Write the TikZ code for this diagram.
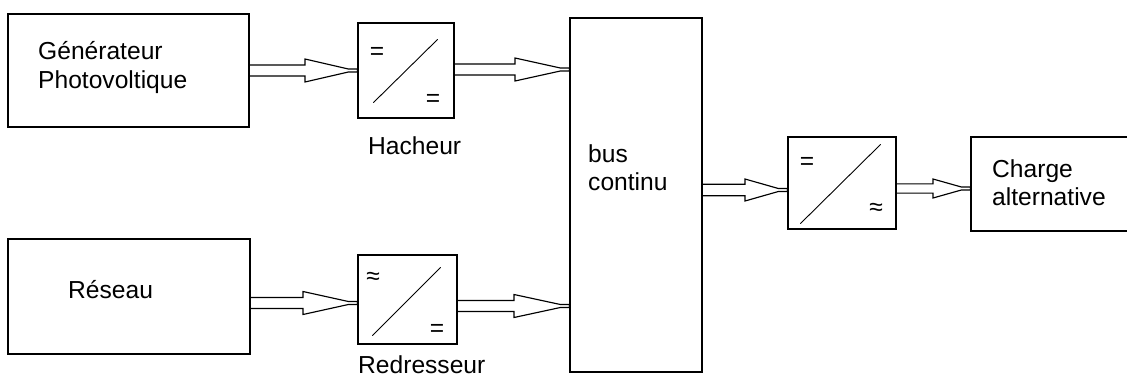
\documentclass[tikz,border=0pt]{standalone}
\usepackage{fontspec}
\setmainfont{Liberation Sans}
\usetikzlibrary{calc}
\tikzset{
  blk/.style={draw=black, line width=1.3pt, inner sep=0pt, fill=none},
  lbl/.style={anchor=base west, inner sep=0pt, font=\fontsize{24.6}{28.5}\selectfont},
  sym/.style={anchor=center, inner sep=0pt, font=\fontsize{24.6}{28.5}\selectfont},
  harrow/.style={draw=black, line width=1.15pt, line join=miter},
  diag/.style={draw=black, line width=0.9pt}
}
% #1 from node, #2 to node, #3 y centre, #4 x where the head starts, #5 shaft half width, #6 head half width
\newcommand{\hollowarrow}[6]{%
  \draw[harrow] (#1.east |- 0,{#3-#5}) -- (#4,{#3-#5}) -- (#4,{#3-#6})
    -- ($(#2.west |- 0,{#3-1.5})+(-9,0)$) -- (#2.west |- 0,{#3-1.5})
    -- (#2.west |- 0,{#3+1.5}) -- ($(#2.west |- 0,{#3+1.5})+(-9,0)$)
    -- (#4,{#3+#6}) -- (#4,{#3+#5}) -- (#1.east |- 0,{#3+#5});}
\begin{document}
\begin{tikzpicture}[x=1pt,y=-1pt]
\useasboundingbox (0,0) rectangle (1127,378);
\fill[white] (0,0) rectangle (1127,378);

% blocks
\node[blk, minimum width=241pt, minimum height=113pt] (gen) at (128.5,70.5) {};
\node[blk, minimum width=96pt, minimum height=95pt] (hach) at (406,70.5) {};
\node[blk, minimum width=132pt, minimum height=354pt] (bus) at (636,195) {};
\node[blk, minimum width=242pt, minimum height=115pt] (res) at (129,296.5) {};
\node[blk, minimum width=99pt, minimum height=89pt] (redr) at (407.5,299.5) {};
\node[blk, minimum width=108pt, minimum height=92pt] (ond) at (842,183) {};
\node[blk, minimum width=169pt, minimum height=94pt] (charge) at (1055.5,184) {};

% texts
\node[lbl] (gent1) at (38,59) {Générateur};
\node[lbl] (gent2) at (38,88) {Photovoltique};
\node[lbl] (hacht) at (368,154) {Hacheur};
\node[lbl] (bust1) at (588,162) {bus};
\node[lbl] (bust2) at (588,190) {continu};
\node[lbl] (rest) at (68,298) {Réseau};
\node[lbl] (redrt) at (358,373) {Redresseur};
\node[lbl] (charget1) at (992,177) {Charge};
\node[lbl] (charget2) at (992,205) {alternative};

% converter symbols
\draw[diag] ($(hach.south west)+(16,-16)$) -- ($(hach.north east)+(-17,17)$);
\node[sym] (h1) at (377,53) {=};
\node[sym] (h2) at (433,100) {=};

\draw[diag] ($(redr.south west)+(15,-9)$) -- ($(redr.north east)+(-17,13)$);
\node[sym] (r1) at (373,278) {≈};
\node[sym] (r2) at (437,330) {=};

\draw[diag] ($(ond.south west)+(13,-6)$) -- ($(ond.north east)+(-16,8)$);
\node[sym] (o1) at (807,163) {=};
\node[sym] (o2) at (876,209) {≈};

% hollow arrows
\hollowarrow{gen}{hach}{70.5}{305}{5.5}{11.5}
\hollowarrow{hach}{bus}{69.5}{515}{5.5}{11.5}
\hollowarrow{res}{redr}{303}{303}{5.5}{11.5}
\hollowarrow{redr}{bus}{306}{514}{5.5}{11.5}
\hollowarrow{bus}{ond}{190}{745}{5.8}{11}
\hollowarrow{ond}{charge}{188.5}{933}{4.6}{9.5}
\end{tikzpicture}
\end{document}
